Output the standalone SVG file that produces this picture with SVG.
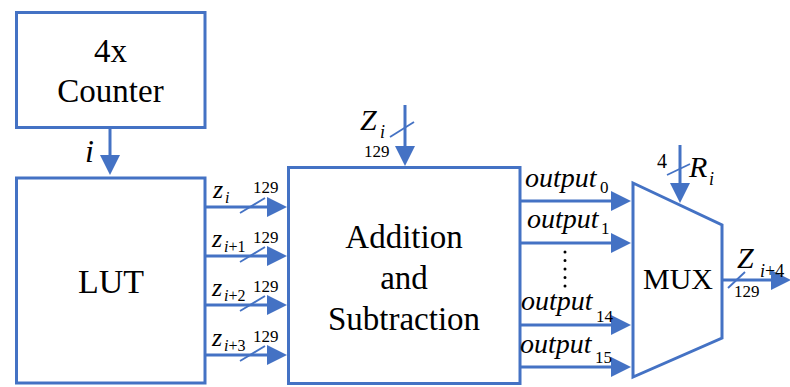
<svg xmlns="http://www.w3.org/2000/svg" width="790" height="387" viewBox="0 0 790 387" font-family="'Liberation Serif', 'DejaVu Serif', serif">
  <style>
    .box { fill: #ffffff; stroke: #4472C4; stroke-width: 3; }
    .wire { fill: none; stroke: #4472C4; stroke-width: 3; }
    .bus { fill: none; stroke: #4472C4; stroke-width: 1.8; }
    text { fill: #000000; }
    .big { font-size: 33px; }
    .it { font-style: italic; }
    .w { font-size: 17px; }
  </style>
  <defs>
    <marker id="head" markerUnits="userSpaceOnUse" markerWidth="22" markerHeight="22" refX="10" refY="10" orient="auto">
      <path d="M0,0 L20,10 L0,20 Z" fill="#4472C4"/>
    </marker>
  </defs>

  <!-- blocks -->
  <g id="counter">
    <rect class="box" x="16.5" y="12.5" width="188.5" height="115"/>
    <text class="big" x="110.5" y="62" text-anchor="middle">4x</text>
    <text class="big" x="110.5" y="102" text-anchor="middle">Counter</text>
  </g>

  <g id="lut">
    <rect class="box" x="16.5" y="178" width="188.5" height="205"/>
    <text font-size="34" x="111" y="293" text-anchor="middle">LUT</text>
  </g>

  <g id="addsub">
    <rect class="box" x="288.5" y="167.5" width="231.5" height="216"/>
    <text class="big" x="404" y="248" text-anchor="middle">Addition</text>
    <text class="big" x="404" y="289" text-anchor="middle">and</text>
    <text class="big" x="404" y="330" text-anchor="middle">Subtraction</text>
  </g>

  <g id="mux">
    <path class="box" d="M633,183 L722,225 L722,338 L633,377 Z"/>
    <text font-size="30" x="678" y="289" text-anchor="middle">MUX</text>
  </g>

  <!-- connectors -->
  <g id="connectors">
    <!-- counter index to LUT -->
    <line class="wire" x1="110" y1="128" x2="110" y2="165" marker-end="url(#head)"/>

    <!-- LUT outputs -->
    <line class="wire" x1="205" y1="207" x2="277" y2="207" marker-end="url(#head)"/>
    <line class="wire" x1="205" y1="256" x2="277" y2="256" marker-end="url(#head)"/>
    <line class="wire" x1="205" y1="305" x2="277" y2="305" marker-end="url(#head)"/>
    <line class="wire" x1="205" y1="355" x2="277" y2="355" marker-end="url(#head)"/>
    <line class="bus" x1="240" y1="213" x2="265" y2="198"/>
    <line class="bus" x1="240" y1="262" x2="265" y2="247"/>
    <line class="bus" x1="240" y1="311" x2="265" y2="296"/>
    <line class="bus" x1="240" y1="361" x2="265" y2="346"/>

    <!-- Z_i input -->
    <line class="wire" x1="405" y1="105" x2="405" y2="156" marker-end="url(#head)"/>
    <line class="bus" x1="390" y1="137" x2="414" y2="122"/>

    <!-- adder outputs to MUX -->
    <line class="wire" x1="520" y1="201" x2="621" y2="201" marker-end="url(#head)"/>
    <line class="wire" x1="520" y1="243" x2="621" y2="243" marker-end="url(#head)"/>
    <line class="wire" x1="520" y1="325" x2="621" y2="325" marker-end="url(#head)"/>
    <line class="wire" x1="520" y1="367" x2="621" y2="367" marker-end="url(#head)"/>
    <!-- vertical ellipsis between output_1 and output_14 -->
    <line x1="565" y1="252" x2="565" y2="290" stroke="#000000" stroke-width="3" stroke-dasharray="0.01,8.5" stroke-linecap="round"/>

    <!-- R_i select -->
    <line class="wire" x1="680" y1="145" x2="680" y2="193" marker-end="url(#head)"/>
    <line class="bus" x1="667" y1="175" x2="690" y2="164"/>

    <!-- MUX output -->
    <line class="wire" x1="722" y1="280" x2="781" y2="280" marker-end="url(#head)"/>
    <line class="bus" x1="728" y1="288" x2="745" y2="272"/>
  </g>

  <!-- signal labels -->
  <g id="labels">
    <text class="it" font-size="32" x="85" y="162">i</text>

    <text class="it" font-size="26" x="213" y="198">z</text>
    <text class="it" font-size="16" x="225" y="203">i</text>
    <text class="w" x="253" y="193">129</text>

    <text class="it" font-size="26" x="212" y="247">z</text>
    <text font-size="16" x="224" y="252"><tspan font-style="italic">i</tspan>+1</text>
    <text class="w" x="253" y="243">129</text>

    <text class="it" font-size="26" x="212" y="296">z</text>
    <text font-size="16" x="224" y="301"><tspan font-style="italic">i</tspan>+2</text>
    <text class="w" x="253" y="292">129</text>

    <text class="it" font-size="26" x="212" y="346">z</text>
    <text font-size="16" x="224" y="351"><tspan font-style="italic">i</tspan>+3</text>
    <text class="w" x="253" y="342">129</text>

    <text class="it" font-size="30" x="360" y="130">Z</text>
    <text class="it" font-size="18" x="380" y="138">i</text>
    <text class="w" x="364" y="157">129</text>

    <text class="it" font-size="28" x="525" y="187">output</text>
    <text font-size="17" x="600" y="193">0</text>
    <text class="it" font-size="28" x="527" y="228">output</text>
    <text font-size="17" x="601" y="234">1</text>
    <text class="it" font-size="28" x="521" y="310">output</text>
    <text font-size="17" x="596" y="322">14</text>
    <text class="it" font-size="28" x="520" y="353">output</text>
    <text font-size="17" x="595" y="363">15</text>

    <text font-size="20" x="657" y="168">4</text>
    <text class="it" font-size="30" x="689" y="177">R</text>
    <text class="it" font-size="18" x="709" y="185">i</text>

    <text class="it" font-size="30" x="737" y="268">Z</text>
    <text font-size="18" x="760" y="277"><tspan font-style="italic">i</tspan>+4</text>
    <text class="w" x="734" y="297">129</text>
  </g>
</svg>
